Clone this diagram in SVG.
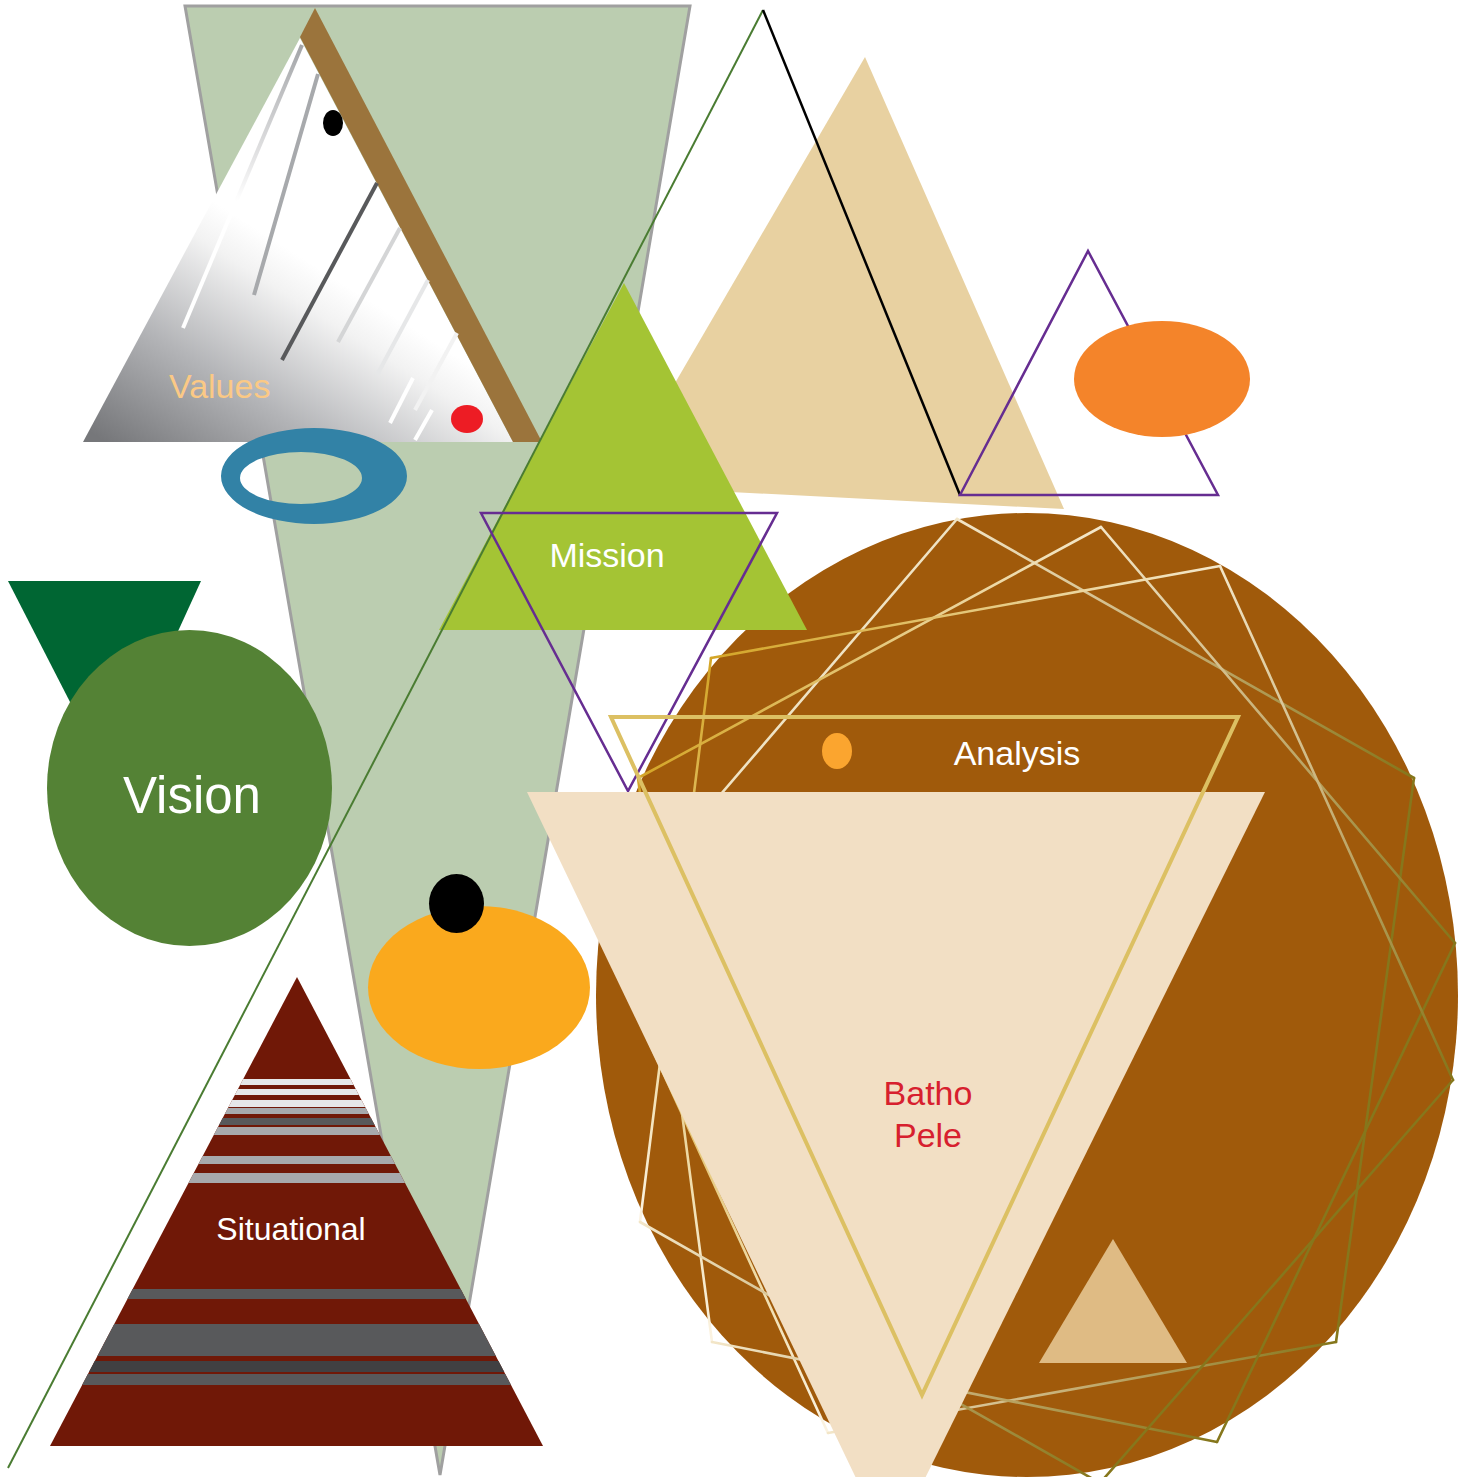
<svg xmlns="http://www.w3.org/2000/svg" width="1459" height="1477" viewBox="0 0 1459 1477">
<defs>
<style>
text{font-family:"Liberation Sans",Arial,sans-serif;}
.lbl{fill:#fff;font-size:34px;}
.web{fill:none;stroke-width:2.6;stroke-linecap:round;}
.vl{stroke-width:4;}
</style>
<linearGradient id="valGrad" gradientUnits="userSpaceOnUse" x1="150" y1="470" x2="290" y2="250">
<stop offset="0" stop-color="#76777a"/>
<stop offset="0.45" stop-color="#b4b5b8"/>
<stop offset="0.85" stop-color="#f2f2f2"/>
<stop offset="1" stop-color="#ffffff"/>
</linearGradient>
<linearGradient id="lineA" x1="0" y1="0" x2="0" y2="1">
<stop offset="0" stop-color="#a3a5a8"/>
<stop offset="0.4" stop-color="#e4e4e5"/>
<stop offset="0.55" stop-color="#ffffff"/>
<stop offset="1" stop-color="#ffffff"/>
</linearGradient>
<linearGradient id="gLO" x1="0" y1="0" x2="1" y2="0">
<stop offset="0" stop-color="#f3e6c8"/>
<stop offset="0.5" stop-color="#c4ad72"/>
<stop offset="1" stop-color="#84751a"/>
</linearGradient>
<linearGradient id="gGW" x1="0" y1="0" x2="1" y2="0">
<stop offset="0" stop-color="#d4a526"/>
<stop offset="1" stop-color="#f4e8cc"/>
</linearGradient>
<linearGradient id="gGV" x1="0" y1="0" x2="0" y2="1">
<stop offset="0" stop-color="#d4a526"/>
<stop offset="1" stop-color="#fbf3e2"/>
</linearGradient>
<clipPath id="sitClip"><polygon points="297,977 543,1446 50,1446"/></clipPath>
</defs>

<g id="funnel">
<polygon points="185,6 690,6 440,1475" fill="#bbcdb0" stroke="#a0a0a0" stroke-width="3"/>
</g>

<g id="values">
<polygon points="83,442 300,38 513,442" fill="url(#valGrad)"/>
<polygon points="315,8 542,442 513,442 300,37" fill="#9b743c"/>
<line x1="302" y1="45" x2="183" y2="328" stroke="url(#lineA)" class="vl"/>
<line x1="318" y1="74" x2="254" y2="295" stroke="#a7a9ac" class="vl"/>
<line x1="377" y1="183" x2="282" y2="360" stroke="#58595b" class="vl"/>
<line x1="400" y1="228" x2="338" y2="342" stroke="#d4d5d6" class="vl"/>
<line x1="428" y1="280" x2="377" y2="375" stroke="#e6e7e8" class="vl"/>
<line x1="457" y1="333" x2="415" y2="410" stroke="#f2f2f2" class="vl"/>
<line x1="413" y1="378" x2="390" y2="423" stroke="#ffffff" class="vl"/>
<line x1="432" y1="410" x2="415" y2="440" stroke="#ffffff" class="vl"/>
<ellipse cx="333" cy="123" rx="10" ry="13" fill="#000"/>
<ellipse cx="467" cy="419" rx="16" ry="14" fill="#ed1c24"/>
<text x="169" y="398" font-size="34" fill="#fbc985">Values</text>
</g>

<g id="ring">
<path d="M221,476 a93,48 0 1,0 186,0 a93,48 0 1,0 -186,0 Z M240,478 a61,26 0 1,0 122,0 a61,26 0 1,0 -122,0 Z" fill="#3282a6" fill-rule="evenodd"/>
</g>

<g id="peak">
<polygon points="865,57 1064,509 615,486" fill="#e8d1a1"/>
</g>

<g id="analysis-disc">
<ellipse cx="1027" cy="995" rx="431" ry="482" fill="#a05a0b"/>
<g id="web">
<line class="web" x1="957" y1="519" x2="600" y2="935" stroke="#efe3c4"/>
<line class="web" x1="600" y1="935" x2="828" y2="1433" stroke="url(#gGV)"/>
<line class="web" x1="828" y1="1433" x2="1336" y2="1342" stroke="url(#gLO)"/>
<line class="web" x1="1336" y1="1342" x2="1414" y2="778" stroke="#86771c"/>
<line class="web" x1="957" y1="519" x2="1414" y2="778" stroke="url(#gLO)"/>
<line class="web" x1="1101" y1="527" x2="638" y2="778" stroke="url(#gGW)"/>
<line class="web" x1="638" y1="778" x2="712" y2="1342" stroke="url(#gGV)"/>
<line class="web" x1="712" y1="1342" x2="1217" y2="1442" stroke="url(#gLO)"/>
<line class="web" x1="1217" y1="1442" x2="1455" y2="943" stroke="#86771c"/>
<line class="web" x1="1101" y1="527" x2="1455" y2="943" stroke="url(#gLO)"/>
<line class="web" x1="1220" y1="566" x2="711" y2="658" stroke="url(#gGW)"/>
<line class="web" x1="711" y1="658" x2="640" y2="1222" stroke="url(#gGV)"/>
<line class="web" x1="640" y1="1222" x2="1100" y2="1483" stroke="url(#gLO)"/>
<line class="web" x1="1100" y1="1483" x2="1453" y2="1080" stroke="#86771c"/>
<line class="web" x1="1220" y1="566" x2="1453" y2="1080" stroke="url(#gLO)"/>
</g>
</g>

<g id="mission">
<polygon points="624,283 807,630 439,630" fill="#a4c434"/>
<text x="607" y="567" class="lbl" text-anchor="middle">Mission</text>
</g>

<g id="vision">
<polygon points="8,581 201,581 110,780" fill="#006633"/>
<ellipse cx="189.5" cy="788" rx="142.5" ry="158" fill="#548235"/>
<text x="192" y="813" font-size="51" fill="#fff" text-anchor="middle">Vision</text>
</g>

<g id="sun">
<ellipse cx="479" cy="987.5" rx="111" ry="81.5" fill="#faa91d"/>
<ellipse cx="456.5" cy="903.5" rx="27.5" ry="29.5" fill="#000"/>
</g>

<g id="situational">
<polygon points="297,977 543,1446 50,1446" fill="#701807"/>
<g clip-path="url(#sitClip)">
<rect x="40" y="1079" width="520" height="6" fill="#e6e7e8"/>
<rect x="40" y="1089" width="520" height="6" fill="#e6e7e8"/>
<rect x="40" y="1100" width="520" height="7" fill="#e6e7e8"/>
<rect x="40" y="1108" width="520" height="6" fill="#a7a9ac"/>
<rect x="40" y="1118" width="520" height="7" fill="#58595b"/>
<rect x="40" y="1127" width="520" height="8" fill="#a7a9ac"/>
<rect x="40" y="1156" width="520" height="8" fill="#a7a9ac"/>
<rect x="40" y="1173" width="520" height="10" fill="#a7a9ac"/>
<rect x="40" y="1289" width="520" height="10" fill="#58595b"/>
<rect x="40" y="1324" width="520" height="32" fill="#58595b"/>
<rect x="40" y="1361" width="520" height="11" fill="#414042"/>
<rect x="40" y="1374" width="520" height="11" fill="#58595b"/>
</g>
<text x="291" y="1240" font-size="32" fill="#fff" text-anchor="middle">Situational</text>
</g>

<g id="outlines">
<line x1="763" y1="10" x2="8" y2="1468" stroke="#4a7c32" stroke-width="2"/>
<line x1="763" y1="10" x2="960" y2="495" stroke="#000" stroke-width="2.5"/>
<polygon points="960,495 1088,251 1218,495" fill="none" stroke="#662d91" stroke-width="2.5"/>
<ellipse cx="1162" cy="379" rx="88" ry="58" fill="#f4842a"/>
</g>

<g id="analysis">
<polygon points="481,513 777,513 628,791" fill="none" stroke="#662d91" stroke-width="2.5"/>
<ellipse cx="837" cy="751" rx="15" ry="18" fill="#fba52f"/>
<text x="1017" y="765" class="lbl" text-anchor="middle">Analysis</text>
</g>

<g id="batho-pele">
<polygon points="527,792 1265,792 890,1549" fill="#f2dfc4"/>
<polygon points="611,717 1238,717 922,1395" fill="none" stroke="#dcc063" stroke-width="4"/>
<text x="928" y="1105" font-size="34" fill="#d7202e" text-anchor="middle">Batho</text>
<text x="928" y="1147" font-size="34" fill="#d7202e" text-anchor="middle">Pele</text>
</g>

<g id="small-peak">
<polygon points="1113,1239 1187,1363 1039,1363" fill="#dfbb84"/>
</g>
</svg>
